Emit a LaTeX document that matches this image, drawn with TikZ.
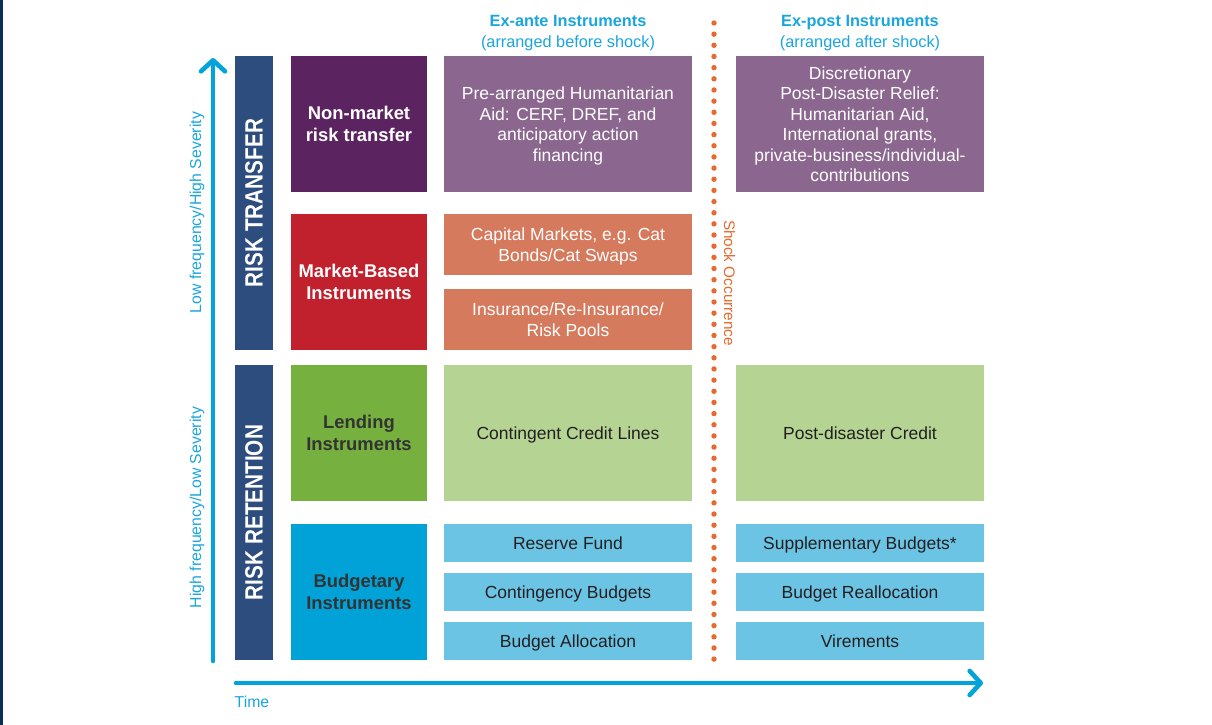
\documentclass[tikz,border=0pt]{standalone}
\usepackage{fontspec}
\setmainfont{Liberation Sans}
\usetikzlibrary{arrows.meta}

\definecolor{edgenavy}{HTML}{0B2F5A}
\definecolor{axiscyan}{HTML}{00A3DA}
\definecolor{labelcyan}{HTML}{1AA6DD}
\definecolor{barnavy}{HTML}{2C4D7E}
\definecolor{nmpurple}{HTML}{5B2460}
\definecolor{lightpurple}{HTML}{8B6790}
\definecolor{mbred}{HTML}{C1202D}
\definecolor{salmon}{HTML}{D67A5E}
\definecolor{lendgreen}{HTML}{76B03F}
\definecolor{lightgreen}{HTML}{B5D493}
\definecolor{budcyan}{HTML}{00A2D8}
\definecolor{lightcyan}{HTML}{6CC4E4}
\definecolor{shockorange}{HTML}{E8692D}
\definecolor{darktext}{HTML}{231F20}
\definecolor{cattext}{HTML}{333333}

\begin{document}
\begin{tikzpicture}[x=1pt,y=-1pt,
  box/.style={inner sep=0pt, outer sep=0pt, align=center},
  catbox/.style={box, minimum width=136pt, minimum height=136pt,
    font=\fontsize{18.4}{22}\selectfont\bfseries},
  % text block runs from the cap line of the first row to the baseline of the last
  itembox/.style={box, minimum width=248pt, text height={12.8pt+(#1-1)*20.4pt},
    text depth=0pt, font=\fontsize{17.5}{20.4}\selectfont},
  itembox/.default=1,
  riskbar/.style={box, fill=barnavy, text=white, rotate=90,
    minimum height=38pt, font=\fontsize{25}{25}\selectfont\bfseries},
  axislabel/.style={inner sep=0pt, text=labelcyan, font=\fontsize{15.8}{15.8}\selectfont},
  header/.style={inner sep=0pt, align=center, text=labelcyan,
    font=\fontsize{16.3}{21}\selectfont},
  axisline/.style={draw=axiscyan, line width=4.6pt, line cap=round,
    -{Straight Barb[length=11pt, width=24pt, round]}},
  shockline/.style={draw=shockorange, line width=5.4pt, line cap=round,
    dash pattern=on 0pt off 11.16pt}
]
\useasboundingbox (0,0) rectangle (1212,725);
\fill[white] (0,0) rectangle (1212,725);
\fill[edgenavy] (0,0) rectangle (2.5,725);

% column headers
\node[header] (hante) at (568,33.5) {\textbf{Ex-ante Instruments}\\(arranged before shock)};
\node[header] (hpost) at (860,33.5) {\textbf{Ex-post Instruments}\\(arranged after shock)};

% shock separator
\coordinate (shtop) at (714,23);
\coordinate (shbot) at (714,659.5);
\draw[shockline] (shtop) -- (shbot);
\node[inner sep=0pt, rotate=-90, text=shockorange, font=\fontsize{15.3}{15.3}\selectfont]
  (shock) at (729.5,283) {Shock Occurrence};

% severity axis
\coordinate (vbot) at (213,661);
\coordinate (vtop) at (213,58);
\draw[axisline] (vbot) -- (vtop);
\node[axislabel, rotate=90] (lowfreq) at (197,212.5) {Low frequency/High Severity};
\node[axislabel, rotate=90] (highfreq) at (197,507.5) {High frequency/Low Severity};

% time axis
\coordinate (hleft) at (236,683);
\coordinate (hright) at (983,683);
\draw[axisline] (hleft) -- (hright);
\node[axislabel, anchor=west] (time) at (234.5,701.5) {Time};

% risk layers
\node[riskbar, minimum width=294pt] (rt) at (254,203) {\scalebox{0.83}[1]{RISK TRANSFER}};
\node[riskbar, minimum width=295pt] (rr) at (254,512.5) {\scalebox{0.83}[1]{RISK RETENTION}};

% instrument categories
\node[catbox, fill=nmpurple, text=white] (nm) at (359,124) {Non-market\\risk transfer};
\node[catbox, fill=mbred, text=white] (mb) at (359,282) {Market-Based\\Instruments};
\node[catbox, fill=lendgreen, text=cattext] (len) at (359,433) {Lending\\Instruments};
\node[catbox, fill=budcyan, text=cattext] (bud) at (359,592) {Budgetary\\Instruments};

% ex-ante instruments
\node[itembox=4, fill=lightpurple, text=white, minimum height=136pt] (pre) at (568,124)
  {Pre-arranged Humanitarian\\Aid: CERF, DREF, and\\anticipatory action\\financing};
\node[itembox=2, fill=salmon, text=white, minimum height=61pt] (cap) at (568,244.5)
  {Capital Markets, e.g. Cat\\Bonds/Cat Swaps};
\node[itembox=2, fill=salmon, text=white, minimum height=61pt] (ins) at (568,319.5)
  {Insurance/Re-Insurance/\\Risk Pools};
\node[itembox, fill=lightgreen, text=darktext, minimum height=136pt] (ccl) at (568,433)
  {Contingent Credit Lines};
\node[itembox, fill=lightcyan, text=darktext, minimum height=38pt] (rf) at (568,543)
  {Reserve Fund};
\node[itembox, fill=lightcyan, text=darktext, minimum height=38pt] (cb) at (568,592)
  {Contingency Budgets};
\node[itembox, fill=lightcyan, text=darktext, minimum height=38pt] (ba) at (568,641)
  {Budget Allocation};

% ex-post instruments
\node[itembox=6, fill=lightpurple, text=white, minimum height=136pt] (disc) at (860,124)
  {Discretionary\\Post-Disaster Relief:\\Humanitarian Aid,\\International grants,\\private-business/individual-\\contributions};
\node[itembox, fill=lightgreen, text=darktext, minimum height=136pt] (pdc) at (860,433)
  {Post-disaster Credit};
\node[itembox, fill=lightcyan, text=darktext, minimum height=38pt] (sb) at (860,543)
  {Supplementary Budgets*};
\node[itembox, fill=lightcyan, text=darktext, minimum height=38pt] (bre) at (860,592)
  {Budget Reallocation};
\node[itembox, fill=lightcyan, text=darktext, minimum height=38pt] (vir) at (860,641)
  {Virements};
\end{tikzpicture}
\end{document}
